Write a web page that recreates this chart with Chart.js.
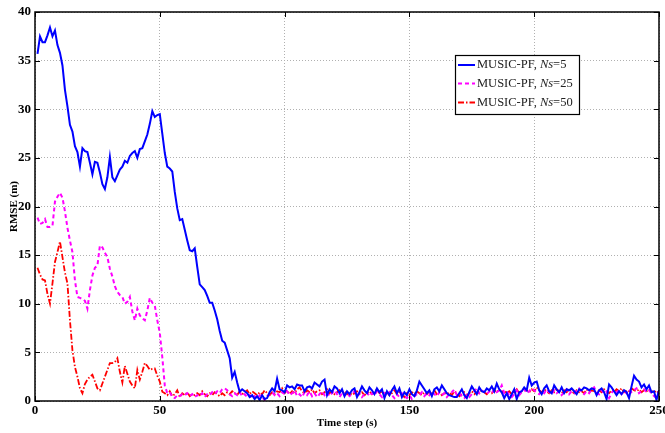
<!DOCTYPE html>
<html>
<head>
<meta charset="utf-8">
<script src="https://cdn.jsdelivr.net/npm/chart.js@4.4.1/dist/chart.umd.min.js"></script>
<style>
  html, body { margin: 0; padding: 0; background: #fff; }
  #wrap { width: 665px; height: 433px; }
</style>
</head>
<body>
<div id="wrap"><canvas id="myChart" width="665" height="433"></canvas></div>
<script>
// ==== data (one value per time step, t = 1..250) ====
const seriesNames = ['5', '25', '50']

const rmseNs5 = [
    35.7, 37.5, 36.9, 36.9, 37.6, 38.4, 37.5, 38.1, 36.6, 35.8,
    34.5, 32.0, 30.3, 28.4, 27.7, 26.2, 25.6, 24.1, 26.0, 25.7,
    25.6, 24.5, 23.3, 24.6, 24.5, 23.5, 22.3, 21.8, 23.0, 25.1,
    23.0, 22.6, 23.2, 23.8, 24.1, 24.7, 24.5, 25.2, 25.5, 25.7,
    25.0, 25.9, 26.0, 26.7, 27.4, 28.5, 29.8, 29.2, 29.4, 29.5,
    27.5, 25.5, 24.1, 23.9, 23.6, 21.5, 19.8, 18.6, 18.7, 17.6,
    16.5, 15.5, 15.4, 15.7, 13.8, 12.0, 11.7, 11.4, 10.8, 10.1,
    10.1, 9.3, 8.4, 7.2, 6.2, 6.0, 5.2, 4.4, 2.4, 3.0,
    1.9, 0.95, 1.2, 1.0, 0.8, 0.4, 0.6, 0.2, 0.5, 0.1,
    0.6, 0.2, 0.3, 0.9, 1.3, 1.0, 2.3, 1.2, 1.1, 0.9,
    1.6, 1.4, 1.5, 1.2, 1.7, 1.6, 1.6, 1.0, 1.4, 1.5,
    1.3, 1.9, 1.7, 1.5, 2.0, 2.2, 0.6, 1.2, 0.9, 1.5,
    1.3, 0.8, 1.2, 0.5, 1.0, 0.7, 1.1, 1.3, 0.4, 0.9,
    1.5, 1.1, 0.8, 1.4, 1.1, 0.7, 1.3, 0.9, 1.2, 0.3,
    1.0, 0.6, 1.1, 1.5, 0.8, 1.3, 0.4, 0.9, 0.6, 1.2,
    0.7, 0.5, 1.1, 2.0, 1.6, 1.2, 0.8, 1.1, 0.5, 1.2,
    1.4, 1.0, 1.6, 1.2, 0.8, 0.6, 0.5, 0.4, 0.4, 0.8,
    1.2, 0.6, 0.3, 0.9, 1.5, 1.1, 0.7, 1.4, 1.0, 0.9,
    1.3, 1.1, 1.5, 1.0, 1.8, 1.2, 0.9, 0.3, 0.8, 0.2,
    0.7, 1.2, 0.2, 0.9, 1.0, 1.4, 1.1, 2.4, 1.6, 1.9,
    2.0, 1.1, 0.7, 1.3, 1.6, 1.0, 0.8, 1.6, 1.2, 0.9,
    1.4, 0.8, 1.2, 1.1, 1.3, 1.0, 0.7, 1.2, 1.1, 1.4,
    1.3, 1.1, 1.3, 1.2, 0.6, 1.1, 1.3, 0.9, 0.2, 1.7,
    1.4, 1.0, 0.6, 1.0, 0.7, 1.1, 0.9, 0.3, 1.5, 2.6,
    2.2, 2.0, 1.4, 1.7, 1.2, 1.6, 0.9, 1.0, 0.1, 1.1
]

const rmseNs25 = [
    18.85, 18.2, 18.3, 18.7, 17.9, 17.9, 18.0, 20.5, 21.0, 21.4,
    20.9, 19.5, 17.8, 16.5, 15.3, 12.4, 10.7, 10.6, 10.5, 10.3,
    9.5, 11.4, 12.9, 13.7, 13.9, 16.0, 15.8, 15.25, 14.8, 13.6,
    12.8, 11.8, 11.2, 10.9, 10.7, 10.0, 10.2, 10.7, 9.2, 8.3,
    9.5, 8.8, 8.5, 8.3, 9.3, 10.6, 10.1, 9.8, 8.3, 7.0,
    4.5, 1.6, 0.8, 0.9, 0.4, 0.3, 0.6, 0.5, 0.7, 0.6,
    0.8, 0.5, 0.7, 0.4, 0.6, 0.5, 0.8, 0.4, 0.7, 0.6,
    0.9, 0.7, 1.0, 0.8, 1.2, 1.3, 1.1, 0.7, 0.5, 0.8,
    0.6, 0.9, 0.5, 0.7, 0.4, 0.6, 0.3, 0.5, 0.2, 0.6,
    0.4, 0.1, 0.5, 0.7, 0.9, 0.6, 0.8, 0.5, 0.9, 0.7,
    1.0, 0.6, 0.8, 1.1, 0.5, 0.7, 0.4, 0.9, 0.6, 1.0,
    0.5, 0.8, 0.4, 0.7, 1.0, 0.6, 0.9, 0.5, 0.8, 1.1,
    0.7, 0.4, 0.8, 0.6, 0.9, 0.5, 0.7, 1.0, 0.6, 0.8,
    0.4, 0.7, 0.9, 0.5, 0.8, 0.6, 1.0, 0.7, 0.4, 0.8,
    0.5, 0.9, 0.6, 0.3, 0.7, 0.4, 0.8, 0.5, 0.3, 0.6,
    0.2, 0.5, 0.7, 0.6, 0.9, 0.5, 0.8, 0.6, 1.0, 0.7,
    0.5, 0.9, 0.6, 0.8, 0.4, 0.7, 0.9, 1.2, 0.6, 0.8,
    0.5, 0.3, 0.6, 0.4, 0.7, 1.0, 1.3, 0.8, 1.1, 0.9,
    0.7, 1.0, 0.8, 1.2, 0.9, 1.1, 1.6, 0.8, 1.0, 0.6,
    0.4, 0.7, 1.1, 0.6, 0.9, 1.2, 0.8, 1.0, 1.3, 1.1,
    0.9, 0.7, 1.0, 0.8, 1.2, 0.9, 0.7, 1.1, 0.8, 1.0,
    0.6, 0.9, 1.2, 0.7, 1.0, 0.8, 1.1, 1.3, 0.9, 0.7,
    1.0, 0.8, 1.2, 1.4, 0.9, 0.7, 1.1, 0.8, 1.0, 0.3,
    0.8, 1.2, 0.9, 1.1, 0.7, 1.0, 0.8, 1.2, 0.9, 1.1,
    1.3, 0.8, 1.0, 1.2, 0.9, 1.1, 0.8, 0.5, 0.3, 0.9
]

const rmseNs50 = [
    13.7, 13.0, 12.5, 12.4, 11.0, 10.0, 12.1, 14.3, 15.3, 16.4,
    14.8, 13.2, 12.1, 8.3, 5.2, 3.5, 2.5, 1.3, 0.8, 1.75,
    2.2, 2.5, 2.7, 2.0, 1.3, 1.1, 1.8, 2.5, 3.2, 3.9,
    3.9, 4.0, 4.4, 3.0, 1.9, 3.6, 2.8, 2.0, 1.6, 1.3,
    3.2, 2.2, 3.0, 3.9, 3.6, 3.2, 3.3, 3.35, 2.6, 2.0,
    0.96, 0.8, 0.6, 1.0, 0.5, 0.7, 1.1, 0.4, 0.8, 0.6,
    0.9, 0.5, 0.7, 0.6, 0.8, 0.6, 1.0, 0.7, 0.5, 0.8,
    0.6, 0.9, 0.7, 0.5, 0.8, 0.6, 0.9, 0.7, 1.0, 0.8,
    0.6, 1.0, 0.7, 0.9, 1.1, 0.7, 1.0, 0.8, 0.6, 0.9,
    0.7, 1.1, 0.8, 0.6, 0.9, 0.7, 1.0, 0.9, 1.3, 0.8,
    1.1, 0.7, 1.0, 0.8, 1.2, 1.4, 1.0, 0.8, 1.1, 0.9,
    1.2, 0.8, 1.0, 1.1, 0.7, 0.9, 1.2, 0.8, 1.0, 0.7,
    0.9, 1.1, 0.8, 1.0, 0.7, 0.9, 0.6, 0.8, 1.0, 0.7,
    0.9, 0.6, 0.8, 1.0, 0.7, 0.9, 1.2, 0.8, 1.0, 0.7,
    0.9, 0.6, 0.8, 1.1, 0.7, 0.9, 0.6, 0.4, 0.8, 0.6,
    0.9, 0.7, 1.0, 0.8, 0.6, 0.9, 0.7, 1.0, 0.8, 1.1,
    0.7, 0.9, 0.6, 0.8, 0.7, 0.9, 0.6, 1.0, 0.8, 0.5,
    0.7, 0.9, 0.6, 0.8, 1.0, 0.7, 0.9, 0.8, 1.1, 0.9,
    0.7, 1.0, 0.8, 1.1, 0.9, 1.2, 0.9, 1.1, 0.8, 1.0,
    0.7, 0.9, 1.2, 0.8, 1.0, 1.3, 1.1, 0.9, 1.2, 1.0,
    1.4, 1.1, 0.9, 1.2, 1.0, 0.8, 1.1, 0.9, 1.2, 1.0,
    0.8, 1.1, 0.9, 1.2, 1.0, 0.8, 1.1, 0.9, 1.0, 0.8,
    1.2, 0.9, 1.1, 1.0, 0.8, 1.1, 0.9, 1.2, 1.0, 0.8,
    1.1, 0.9, 1.2, 1.0, 1.3, 0.9, 1.1, 1.0, 1.3, 1.1,
    1.0, 1.2, 0.9, 1.1, 1.0, 1.2, 0.9, 1.1, 0.8, 1.0
]

const xTicks = [0, 50, 100, 150, 200, 250]
const yTicks = [0, 5, 10, 15, 20, 25, 30, 35, 40]

// time step index for each value
const timeSteps = rmseNs5.map((v, i) => i + 1)

function toPoints(values) {
    return values.map((v, i) => ({ x: timeSteps[i], y: v }))
}

// ==== frame, inner ticks and legend drawn like the matlab figure ====
const framePlugin = {
    id: 'frame',
    afterDraw(chart) {
        const ctx = chart.ctx
        const a = chart.chartArea
        const xs = chart.scales.x
        const ys = chart.scales.y
        ctx.save()
        ctx.strokeStyle = '#000'
        ctx.lineWidth = 1
        ctx.beginPath()
        xTicks.forEach(t => {
            let px = Math.round(xs.getPixelForValue(t)) + 0.5
            ctx.moveTo(px, a.bottom); ctx.lineTo(px, a.bottom - 5)
            ctx.moveTo(px, a.top); ctx.lineTo(px, a.top + 5)
        })
        yTicks.forEach(t => {
            let py = Math.round(ys.getPixelForValue(t)) + 0.5
            ctx.moveTo(a.left, py); ctx.lineTo(a.left + 5, py)
            ctx.moveTo(a.right, py); ctx.lineTo(a.right - 5, py)
        })
        ctx.stroke()
        ctx.lineWidth = 1.5
        ctx.strokeRect(a.left, a.top, a.right - a.left, a.bottom - a.top)

        // legend box
        const bx = 455, by = 55, bw = 124, bh = 59
        ctx.fillStyle = '#fff'
        ctx.fillRect(bx, by, bw, bh)
        ctx.lineWidth = 1.2
        ctx.strokeStyle = '#000'
        ctx.strokeRect(bx + 0.5, by + 0.5, bw, bh)
        const rows = [65, 83.5, 102.5]
        chart.data.datasets.forEach((ds, i) => {
            let y = rows[i]
            ctx.beginPath()
            ctx.strokeStyle = ds.borderColor
            ctx.lineWidth = ds.borderWidth
            ctx.setLineDash(ds.borderDash || [])
            ctx.moveTo(458, y); ctx.lineTo(475, y)
            ctx.stroke()
            ctx.setLineDash([])
            ctx.fillStyle = '#222'
            ctx.textBaseline = 'middle'
            let x = 477
            ctx.font = '12.5px "Liberation Serif"'
            ctx.fillText('MUSIC-PF, ', x, y)
            x += ctx.measureText('MUSIC-PF, ').width
            ctx.font = 'italic 12.5px "Liberation Serif"'
            ctx.fillText('Ns', x, y)
            x += ctx.measureText('Ns').width
            ctx.font = '12.5px "Liberation Serif"'
            ctx.fillText('=' + seriesNames[i], x, y)
        })
        ctx.restore()
    }
}

let ctx = document.getElementById('myChart')

let dados = {
    datasets: [{
        label: 'MUSIC-PF, Ns=5',
        data: toPoints(rmseNs5),
        borderColor: '#0000ff',
        borderWidth: 2,
        pointRadius: 0,
        tension: 0
    }, {
        label: 'MUSIC-PF, Ns=25',
        data: toPoints(rmseNs25),
        borderColor: '#ff00ff',
        borderWidth: 2,
        borderDash: [4, 3],
        pointRadius: 0,
        tension: 0
    }, {
        label: 'MUSIC-PF, Ns=50',
        data: toPoints(rmseNs50),
        borderColor: '#ff0000',
        borderWidth: 1.8,
        borderDash: [6, 2, 1.5, 2],
        pointRadius: 0,
        tension: 0
    }]
}

const tickFont = { family: '"Liberation Serif"', size: 13, weight: 'bold' }
const titleFont = { family: '"Liberation Serif"', size: 11, weight: 'bold' }

let opcoes = {
    responsive: false,
    animation: false,
    devicePixelRatio: 1,
    layout: { padding: { top: 12, right: 6, left: 0, bottom: 0 } },
    plugins: {
        legend: { display: false },
        tooltip: { enabled: false }
    },
    scales: {
        x: {
            type: 'linear',
            min: 0,
            max: 250,
            afterBuildTicks: s => { s.ticks = xTicks.map(v => ({ value: v })) },
            afterFit: s => { s.height = 32; s.paddingLeft = 0; s.paddingRight = 0 },
            grid: { color: '#b0b0b0', drawTicks: false, lineWidth: 1 },
            border: { display: false, dash: [1, 2] },
            ticks: { font: tickFont, color: '#000', padding: 2, maxRotation: 0 },
            title: { display: true, text: 'Time step (s)', font: titleFont, color: '#000', padding: { top: 0, bottom: 3 } }
        },
        y: {
            min: 0,
            max: 40,
            afterBuildTicks: s => { s.ticks = yTicks.map(v => ({ value: v })) },
            afterFit: s => { s.width = 35; s.paddingTop = 0; s.paddingBottom = 0 },
            grid: { color: '#b0b0b0', drawTicks: false, lineWidth: 1 },
            border: { display: false, dash: [1, 2] },
            ticks: { font: tickFont, color: '#000', padding: 4 },
            title: { display: true, text: 'RMSE (m)', font: titleFont, color: '#000', padding: { top: 8, bottom: 0 } }
        }
    }
}

let meuGrafico = new Chart(ctx, {
    type: 'line',
    data: dados,
    options: opcoes,
    plugins: [framePlugin]
})
</script>
</body>
</html>
